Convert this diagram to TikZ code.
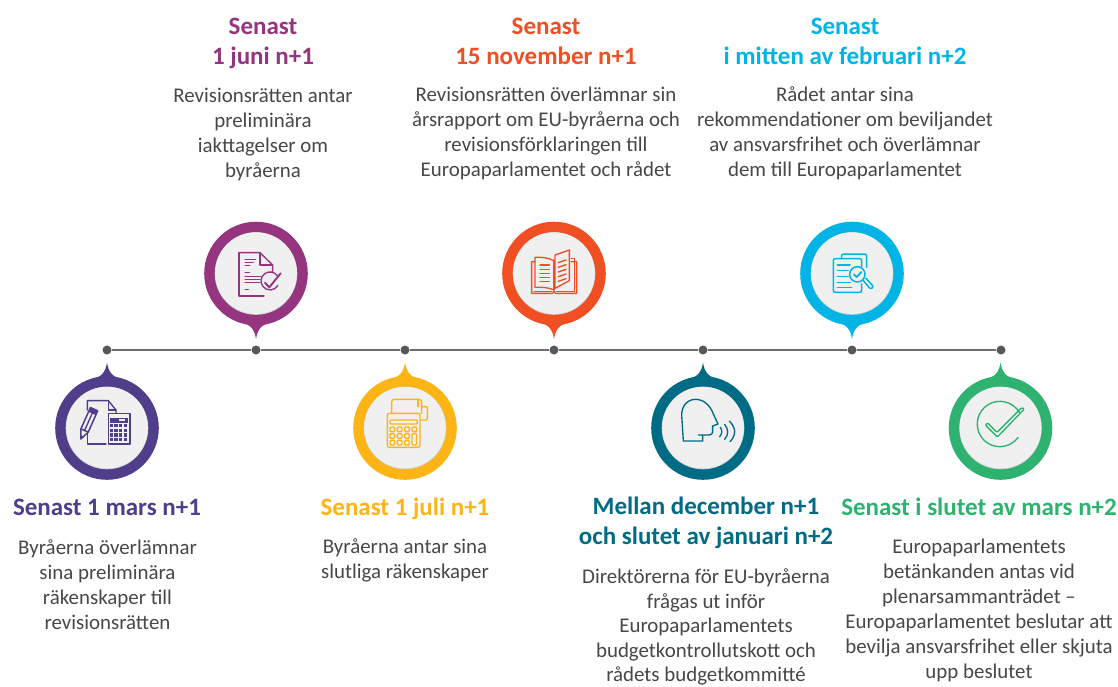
\documentclass[tikz,border=0pt]{standalone}
\usepackage{fontspec}
\setmainfont{Carlito}
\definecolor{cA}{HTML}{503E8A}
\definecolor{cB}{HTML}{953580}
\definecolor{cC}{HTML}{FDB515}
\definecolor{cD}{HTML}{F04E23}
\definecolor{cE}{HTML}{006B84}
\definecolor{cF}{HTML}{00B5E5}
\definecolor{cG}{HTML}{2DB26F}
\definecolor{lineg}{HTML}{6E6E6E}
\definecolor{dotg}{HTML}{585858}
\definecolor{disc}{HTML}{F0F0F1}
\tikzset{
  titletext/.style={inner sep=0pt,align=center,font=\fontsize{25}{30}\selectfont\bfseries},
  bodytext/.style={inner sep=0pt,align=center,text=black!72,font=\fontsize{20.9}{24.9}\selectfont},
  bodytight/.style={bodytext,font=\fontsize{20.9}{24.6}\selectfont},
  dotnode/.style={circle,fill=dotg,inner sep=0pt,minimum size=9pt},
  icon/.style={line width=1.35pt,line join=round,line cap=round},
  thinicon/.style={line width=1pt,line cap=round,line join=round}
}
% #1 x, #2 y, #3 colour, #4 +1 tip down / -1 tip up
\newcommand{\mypin}[4]{%
  \begin{scope}[shift={(#1,#2)},yscale=#4]
    \fill[#3] (0,65.5) .. controls (1.5,56) and (5,51) .. (16,48.5) -- (0,0) -- (-16,48.5) .. controls (-5,51) and (-1.5,56) .. (0,65.5) -- cycle;
    \fill[#3] (0,0) circle (51.8);
  \end{scope}
  \fill[black!18] (#1,#2) circle (41.3);
  \fill[disc] (#1,#2-.4) circle (40.8);
}
\begin{document}
\begin{tikzpicture}[x=1pt,y=-1pt]
\useasboundingbox (0,0) rectangle (1118,686);
\fill[white] (0,0) rectangle (1118,686);

% timeline
\node[dotnode] (d1) at (107,350) {};
\node[dotnode] (d2) at (256,350) {};
\node[dotnode] (d3) at (405,350) {};
\node[dotnode] (d4) at (554,350) {};
\node[dotnode] (d5) at (703,350) {};
\node[dotnode] (d6) at (852,350) {};
\node[dotnode] (d7) at (1001,350) {};
\draw[lineg,line width=2.1pt] (d1)--(d2) (d2)--(d3) (d3)--(d4) (d4)--(d5) (d5)--(d6) (d6)--(d7);

% pins
\mypin{107}{428}{cA}{-1}
\mypin{256}{273.5}{cB}{1}
\mypin{405}{428}{cC}{-1}
\mypin{554}{273.5}{cD}{1}
\mypin{703}{428}{cE}{-1}
\mypin{852}{273.5}{cF}{1}
\mypin{1000.5}{428}{cG}{-1}

% icon 1
\begin{scope}[shift={(30,330)},x=.3333pt,y=-.3333pt,cA,icon]
  \draw (172,240)--(172,212)--(235,212)--(258,240)--(258,248);
  \draw (235,212)--(235,240)--(258,240);
  \draw (172,300)--(172,342)--(228,342);
  \draw[line width=1.5pt] (235,250) rectangle (300,342);
  \fill (241,263) rectangle (294,278);
  \foreach \yy in {287,301,315,329}{\foreach \xx in {244,258,272,286}{\fill (\xx-5,\yy-5) rectangle (\xx+5,\yy+5);}}
  \fill[disc] (266,268) rectangle (286,274);
  \begin{scope}[shift={(180,265)},rotate=-24]
    \draw[line width=1.5pt,fill=disc] (-12,-30) rectangle (12,40);
    \fill (-12,-30) rectangle (12,-16);
    \draw[line width=1.5pt] (-12,40)--(0,68)--(12,40);
    \fill (-4,58)--(0,68)--(4,58)--cycle;
    \draw (0,-16)--(0,40);
  \end{scope}
\end{scope}

% icon 2
\begin{scope}[shift={(190,210)},x=.3333pt,y=-.3333pt,cB,icon]
  \draw (147,128)--(210,128)--(248,165)--(248,185);
  \draw (210,128)--(210,165)--(248,165);
  \draw (147,128)--(147,258)--(222,258);
  \draw[thinicon] (165,147)--(197,147) (165,157)--(190,157) (165,167)--(180,167)
    (165,188)--(178,188) (165,198)--(218,198) (165,208)--(212,208) (165,218)--(212,218) (165,238)--(175,238);
  \fill[disc] (240,213) circle (29);
  \draw (262,197) arc[start angle=-36,end angle=-330,radius=27];
  \draw[line width=1.9pt] (225,218)--(238,232)--(272,190);
\end{scope}

% icon 3
\begin{scope}[shift={(330,340)},x=.3333pt,y=-.3333pt,cC,icon]
  \draw[rounded corners=2pt] (172,220) rectangle (270,322);
  \draw[rounded corners=2.5pt] (185,220)--(185,178)--(275,178)--(275,220);
  \draw (264,178)--(264,200);
  \draw[rounded corners=1pt] (275,200)--(292,200)--(292,240)--(275,240);
  \draw[rounded corners=1pt] (180,240) rectangle (262,252);
  \foreach \yy in {268,288,308}{\foreach \xx in {187,209,231}{\draw[rounded corners=1pt] (\xx-7,\yy-7) rectangle (\xx+7,\yy+7);}}
  \draw[rounded corners=1pt] (246,261) rectangle (260,275);
  \draw[rounded corners=1pt] (246,281) rectangle (260,315);
\end{scope}

% icon 4
\begin{scope}[shift={(490,210)},x=.3333pt,y=-.3333pt,cD,icon]
  \draw (192,152) .. controls (175,143) and (155,141) .. (135,142)--(135,232) .. controls (155,231) and (175,232) .. (192,240);
  \draw (192,152)--(192,240);
  \draw (195,135)--(238,120)--(238,212)--(195,235)--cycle;
  \draw (135,155)--(125,155)--(125,250)--(188,250) (188,250) -- (192,244) -- (197,250)--(260,250)--(260,155)--(244,155);
  \draw (132,244)--(185,244) (200,244)--(253,244)--(253,145)--(244,145);
  \draw[line width=1.4pt] (150,165)--(178,165) (150,178)--(178,178) (150,190)--(178,190) (150,202)--(178,202) (150,214)--(178,214);
  \draw[line width=1.4pt] (205,158)--(228,150) (205,172)--(228,164) (205,186)--(228,178) (205,200)--(228,192) (205,214)--(228,206);
\end{scope}

% icon 5
\begin{scope}[shift={(630,340)},x=.3333pt,y=-.3333pt,cE,icon]
  \draw (160,303)--(218,303)--(218,285)--(205,285) (218,285)--(235,285) .. controls (245,285) and (249,280) .. (248,270)--(248,258)--(264,252)--(250,222) .. controls (240,195) and (220,178) .. (197,178) .. controls (172,178) and (155,198) .. (155,225)--(160,303);
  \draw (271,262) .. controls (277,270) and (277,282) .. (269,290);
  \draw (284,253) .. controls (296,268) and (296,285) .. (284,298);
  \draw (298,243) .. controls (319,265) and (319,285) .. (300,305);
\end{scope}

% icon 6
\begin{scope}[shift={(780,210)},x=.3333pt,y=-.3333pt,cF,icon,line width=1.5pt]
  \draw[rounded corners=2pt] (185,146)--(185,132)--(260,132)--(260,172);
  \draw[rounded corners=2pt] (245,170)--(245,146)--(160,146)--(160,247)--(245,247)--(245,222);
  \draw (172,165)--(210,165) (172,182)--(205,182) (172,200)--(205,200) (172,217)--(212,217) (172,233)--(215,233);
  \draw[fill=disc] (232,193) circle (23);
  \draw[line width=1.8pt] (222,193)--(230,201)--(244,186);
  \draw[rounded corners=2pt] (250,212)--(272,238)--(281,230)--(258,205);
\end{scope}

% icon 7
\begin{scope}[shift={(930,340)},x=.3333pt,y=-.3333pt,cG,icon]
  \draw (268,217) arc[start angle=-31,end angle=-324,radius=68];
  \draw[rounded corners=1pt] (166,255)--(173,249)--(201,277)--(275,203)--(283,207)--(202,291)--cycle;
\end{scope}

% texts
\node[titletext,text=cA] (t1) at (107,507) {Senast 1 mars n+1};
\node[bodytext] (b1) at (107.5,585) {Byråerna överlämnar\\sina preliminära\\räkenskaper till\\revisionsrätten};
\node[titletext,text=cB] (t2) at (263,43) {Senast\\1 juni n+1};
\node[bodytext] (b2) at (263,134.5) {Revisionsrätten antar\\preliminära\\iakttagelser om\\byråerna};
\node[titletext,text=cC] (t3) at (405,508.5) {Senast 1 juli n+1};
\node[bodytext] (b3) at (405,560.5) {Byråerna antar sina\\slutliga räkenskaper};
\node[titletext,text=cD] (t4) at (546,41) {Senast\\15 november n+1};
\node[bodytext] (b4) at (546,133.5) {Revisionsrätten överlämnar sin\\årsrapport om EU-byråerna och\\revisionsförklaringen till\\Europaparlamentet och rådet};
\node[titletext,text=cE] (t5) at (706,523) {Mellan december n+1\\och slutet av januari n+2};
\node[bodytight] (b5) at (706,627) {Direktörerna för EU-byråerna\\frågas ut inför\\Europaparlamentets\\budgetkontrollutskott och\\rådets budgetkommitté};
\node[titletext,text=cF] (t6) at (845,41) {Senast\\i mitten av februari n+2};
\node[bodytext] (b6) at (845,133.5) {Rådet antar sina\\rekommendationer om beviljandet\\av ansvarsfrihet och överlämnar\\dem till Europaparlamentet};
\node[titletext,text=cG] (t7) at (979,507) {Senast i slutet av mars n+2};
\node[bodytext] (b7) at (979,610.5) {Europaparlamentets\\betänkanden antas vid\\plenarsammanträdet –\\Europaparlamentet beslutar att\\bevilja ansvarsfrihet eller skjuta\\upp beslutet};
\end{tikzpicture}
\end{document}
